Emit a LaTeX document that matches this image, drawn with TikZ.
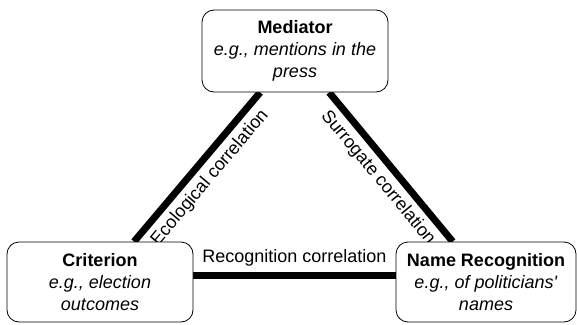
\documentclass[tikz,border=0pt]{standalone}
\usepackage{fontspec}
\setmainfont{Liberation Sans}[Ligatures=TeXOff]
\usetikzlibrary{backgrounds}

\begin{document}
\begin{tikzpicture}[x=1pt, y=1pt,
            every node/.style = {font=\fontsize{18}{22}\selectfont},
            factor/.style = {shape=rectangle, rounded corners=12pt,
                                draw, align=center, fill=white,
                                line width=0.8pt, minimum height=80pt},
            link/.style = {line width=7pt},
            tag/.style = {inner sep=5pt}]
            \useasboundingbox (0,0) rectangle (577,-324);
            \node[factor, minimum width=186pt, minimum height=82pt] (med) at (295,-51)
                {\textbf{Mediator}\\\textit{e.g., mentions in the}\\\textit{press}};
            \node[factor, minimum width=186pt] (crit) at (100,-282)
                {\textbf{Criterion}\\\textit{e.g., election}\\\textit{outcomes}};
            \node[factor, minimum width=180pt] (nrec) at (486,-282)
                {\textbf{Name Recognition}\\\textit{e.g., of politicians'}\\\textit{names}};
            \begin{pgfonlayer}{background}
                \draw[link] (crit) -- node[tag, sloped, below] {Ecological correlation} (med);
                \draw[link] (med) -- node[tag, sloped, below] {Surrogate correlation} (nrec);
                \draw[link] ([yshift=7pt]crit.east) -- node[tag, above] {Recognition correlation} ([yshift=7pt]nrec.west);
            \end{pgfonlayer}
        \end{tikzpicture}
\end{document}
